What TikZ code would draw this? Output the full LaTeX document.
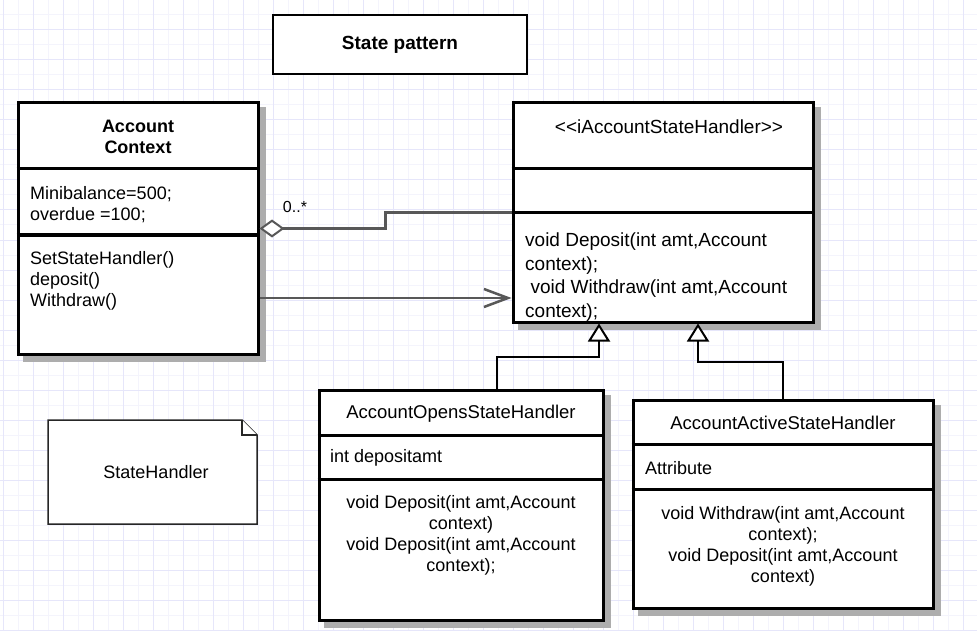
\documentclass[tikz,border=0pt]{standalone}
\usepackage{fontspec}
\setmainfont{Liberation Sans}
\usepackage{tikz}
\usetikzlibrary{arrows.meta}
\definecolor{gridmajor}{RGB}{230,230,250}
\definecolor{gridminor}{RGB}{244,244,252}
\definecolor{linkgray}{RGB}{88,88,88}
\tikzset{umlbox/.style={draw, line width=3pt, fill=white,
           preaction={fill=black!32, draw=black!32, transform canvas={xshift=6pt, yshift=-6pt}}},
         umlsep/.style={line width=3pt},
         members/.style={anchor=west, align=left, inner sep=0pt, font=\fontsize{18}{21}\selectfont},
         ops/.style={align=center, inner sep=0pt, font=\fontsize{18}{21}\selectfont},
         notebox/.style={draw=black!85, line width=1.5pt, fill=white, line join=miter},
         aggr/.style={draw=linkgray, line width=2.5pt, {Diamond[fill=white, length=25pt, width=18pt, line width=2pt]}-},
         assoc/.style={draw=linkgray, line width=2.5pt, -{Straight Barb[length=24pt, width=18pt]}},
         inherit/.style={line width=1.5pt, -{Triangle[fill=white, length=18pt, width=22pt, line width=2pt]}}}

\begin{document}
\begin{tikzpicture}[x=1pt,y=-1pt]
\useasboundingbox (0,0) rectangle (977,631);
\fill[white] (0,0) rectangle (977,631);
% grid
\foreach \x in {18,48,...,977}
  \draw[gridminor, line width=1pt] (\x,0) -- (\x,631);
\foreach \y in {15,45,...,631}
  \draw[gridminor, line width=1pt] (0,\y) -- (977,\y);
\foreach \x in {3,33,...,977}
  \draw[gridmajor, line width=1pt] (\x,0) -- (\x,631);
\foreach \y in {0,30,...,631}
  \draw[gridmajor, line width=1pt] (0,\y) -- (977,\y);

\node[draw, line width=1.5pt, fill=white, minimum width=254pt, minimum height=59pt,
      font=\bfseries\fontsize{19}{23}\selectfont] (title) at (400,44.5) {State pattern};

% context class
\node[umlbox, minimum width=240pt, minimum height=251pt] (ctx) at (138,228.5) {};
\node[ops, font=\bfseries\fontsize{18}{21}\selectfont] (ctxname) at (138,137) {Account\\Context};
\draw[umlsep] (ctx.west |- 0,169) -- (ctx.east |- 0,169);
\node[members] (ctxattr) at (30,204.5) {Minibalance=500;\\overdue =100;};
\draw[umlsep] (ctx.west |- 0,235) -- (ctx.east |- 0,235);
\node[members] (ctxops) at (30,281) {SetStateHandler()\\deposit()\\Withdraw()};

% interface
\node[umlbox, minimum width=300pt, minimum height=219pt] (iface) at (663,212.5) {};
\node[ops, font=\fontsize{19}{23}\selectfont] (ifacename) at (669,127) {<{}<iAccountStateHandler>{}>};
\draw[umlsep] (iface.west |- 0,169) -- (iface.east |- 0,169);
\draw[umlsep] (iface.west |- 0,213) -- (iface.east |- 0,213);
\node[members, font=\fontsize{19}{23.5}\selectfont] (ifaceops) at (525,277)
  {void Deposit(int amt,Account\\context);\\\hspace*{0.28em}void Withdraw(int amt,Account\\context);};

% concrete states
\node[umlbox, minimum width=284pt, minimum height=230pt] (opens) at (461,505) {};
\node[ops, font=\fontsize{18.5}{21}\selectfont] (opensname) at (461,414) {AccountOpensStateHandler};
\draw[umlsep] (opens.west |- 0,435) -- (opens.east |- 0,435);
\node[members] (opensattr) at (330,458) {int depositamt};
\draw[umlsep] (opens.west |- 0,479) -- (opens.east |- 0,479);
\node[ops] (opensops) at (461,535)
  {void Deposit(int amt,Account\\context)\\void Deposit(int amt,Account\\context);};

\node[umlbox, minimum width=300pt, minimum height=208pt] (active) at (783,504) {};
\node[ops, font=\fontsize{18.5}{21}\selectfont] (activename) at (783,423) {AccountActiveStateHandler};
\draw[umlsep] (active.west |- 0,444) -- (active.east |- 0,444);
\node[members] (activeattr) at (645,468) {Attribute};
\draw[umlsep] (active.west |- 0,489) -- (active.east |- 0,489);
\node[ops] (activeops) at (783,546)
  {void Withdraw(int amt,Account\\context);\\void Deposit(int amt,Account\\context)};

% note
\draw[notebox] (48,420) -- (242,420) -- (257,435) -- (257,524) -- (48,524) -- cycle;
\draw[notebox] (242,420) -- (242,435) -- (257,435);
\node[ops] (notetext) at (156,472) {StateHandler};

% relations
\draw[aggr] (ctx.east) -- ++(126,0) |- (iface.west);
\node[inner sep=0pt, font=\fontsize{16}{19}\selectfont] (mult) at (295,207) {0..*};
\draw[assoc] ([yshift=-69.5pt]ctx.east) -- ([yshift=-85.5pt]iface.west);
\draw[inherit] ([xshift=36pt]opens.north) -- ++(0,-31.5) -| ([xshift=-64pt]iface.south);
\draw[inherit] (active.north) -- ++(0,-36.5) -| ([xshift=35pt]iface.south);
\end{tikzpicture}
\end{document}
